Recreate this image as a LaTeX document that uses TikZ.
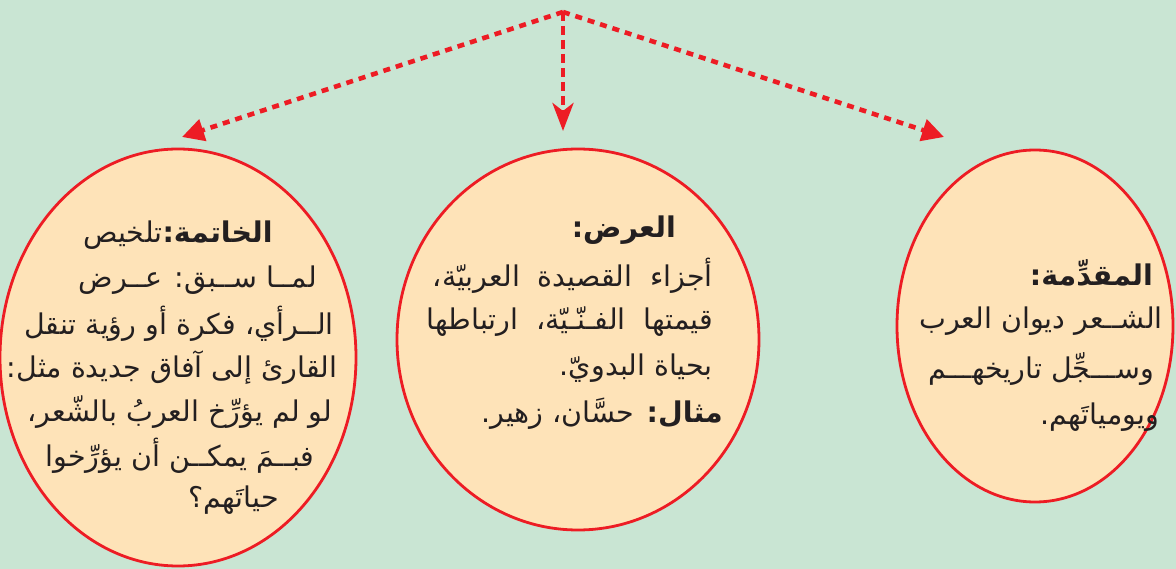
\documentclass[tikz,border=0pt]{standalone}
\usepackage{fontspec}
\newfontfamily\arabicfont[Script=Arabic]{DejaVu Sans}
\TeXXeTstate=1
\usetikzlibrary{shapes.geometric,arrows.meta}
\definecolor{bgmint}{HTML}{C9E5D3}
\definecolor{peach}{HTML}{FEE3B8}
\definecolor{redline}{HTML}{ED1C24}
\definecolor{inkgray}{HTML}{231F20}
\newcommand{\artext}[1]{\arabicfont\beginR #1\endR}
\newcommand{\wsp}{\hspace{18pt}}

\begin{document}
\begin{tikzpicture}[x=1pt,y=-1pt,
    bubble/.style={ellipse,draw=redline,fill=peach,line width=2.8pt,inner sep=0pt},
    link/.style={redline,line width=4.6pt,dash pattern=on 7pt off 6pt},
    every node/.style={font=\fontsize{28.5}{32}\selectfont,text=inkgray,inner sep=1pt}]
    \fill[bgmint] (0,0) rectangle (1176,569);
    \useasboundingbox (0,0) rectangle (1176,569);
    % the three bubbles
    \node[bubble,minimum width=356pt,minimum height=417pt] (khatima) at (178,357.5) {};
    \node[bubble,minimum width=362pt,minimum height=381pt] (ard) at (578,339.5) {};
    \node[bubble,minimum width=276pt,minimum height=352pt] (muqaddima) at (1035,326) {};
    % arrows from the top
    \coordinate (root) at (563,12);
    \coordinate (tipL) at (182,137);
    \coordinate (tipM) at (563,131);
    \coordinate (tipR) at (944,137);
    \draw[link,-{Triangle[length=22pt,width=22pt]}] (root) -- (tipL);
    \draw[link,-{Triangle[length=22pt,width=22pt]}] (root) -- (tipR);
    \draw[link,dash pattern=on 9pt off 5pt,-{Stealth[length=28pt,width=21pt,inset=8pt]}] (root) -- (tipM);
    % khatima text
    \node (kh1) at (178,235) {\artext{{\bfseries الخاتمة:}تلخيص}};
    \node (kh2) at (198,280) {\artext{لمــا ســبق: عــرض}};
    \node (kh3) at (179,324) {\artext{الــرأي، فكرة أو رؤية تنقل}};
    \node (kh4) at (172,368) {\artext{القارئ إلى آفاق جديدة مثل:}};
    \node (kh5) at (180,412) {\artext{لو لم يؤرِّخ العربُ بالشّعر،}};
    \node (kh6) at (180,456) {\artext{فبــمَ يمكــن أن يؤرِّخوا}};
    \node[anchor=east] (kh7) at (280,500) {\artext{حياتَهم؟}};
    % ard text
    \node[anchor=east] (ar1) at (677,230) {\artext{{\bfseries العرض:}}};
    \node[anchor=east] (ar2) at (714,276) {\artext{أجزاء\wsp القصيدة\wsp العربيّة،}};
    \node[anchor=east] (ar3) at (714,322) {\artext{قيمتها\wsp الفـنّـيّة،\wsp ارتباطها}};
    \node[anchor=east] (ar4) at (714,368) {\artext{بحياة البدويّ.}};
    \node[anchor=east] (ar5) at (724,414) {\artext{{\bfseries مثال:} حسَّان، زهير.}};
    % muqaddima text
    \node[anchor=east] (mq1) at (1154,273) {\artext{{\bfseries المقدِّمة:}}};
    \node (mq2) at (1041,321) {\artext{الشــعر ديوان العرب}};
    \node (mq3) at (1041,369) {\artext{وســـجِّل تاريخهـــم}};
    \node[anchor=east] (mq4) at (1160,417) {\artext{ويومياتَهم.}};
\end{tikzpicture}
\end{document}
